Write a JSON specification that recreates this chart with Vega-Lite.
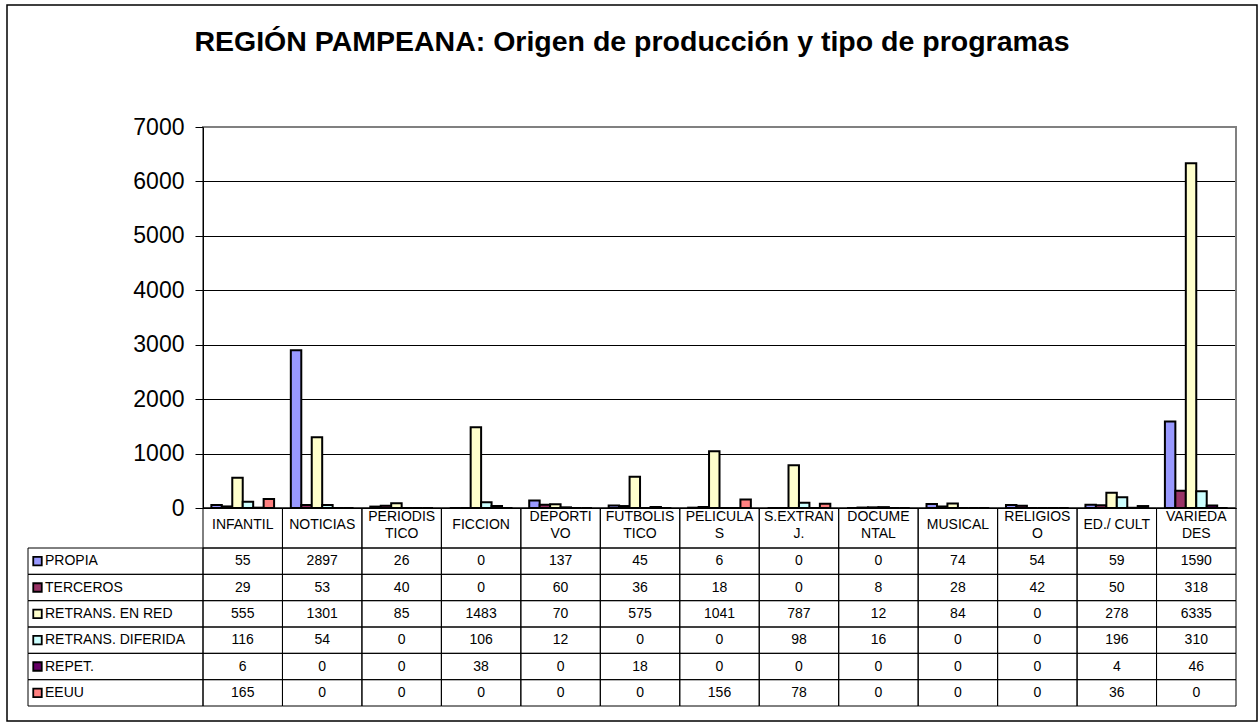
{
  "$schema": "https://vega.github.io/schema/vega-lite/v6.json",
  "width": 1250,
  "height": 716,
  "autosize": "none",
  "padding": {"left": 7, "top": 5, "right": 1, "bottom": 2},
  "background": "white",
  "config": {"view": {"stroke": "black", "strokeWidth": 1.5}, "font": "Liberation Sans"},
  "title": {"text": "REGIÓN PAMPEANA: Origen de producción y tipo de programas", "font": "Liberation Sans", "fontSize": 28.5, "fontWeight": "bold", "color": "black", "anchor": "middle", "frame": "group", "baseline": "alphabetic", "offset": -74},
  "datasets": {
    "tipos": [
      {"tipo": "INFANTIL"}, {"tipo": "NOTICIAS"}, {"tipo": "PERIODISTICO"}, {"tipo": "FICCION"}, {"tipo": "DEPORTIVO"}, {"tipo": "FUTBOLISTICO"}, {"tipo": "PELICULAS"}, {"tipo": "S.EXTRANJ."}, {"tipo": "DOCUMENTAL"}, {"tipo": "MUSICAL"}, {"tipo": "RELIGIOSO"}, {"tipo": "ED./ CULT"}, {"tipo": "VARIEDADES"}
    ],
    "origenes": [
      {"origen": "PROPIA"}, {"origen": "TERCEROS"}, {"origen": "RETRANS. EN RED"}, {"origen": "RETRANS. DIFERIDA"}, {"origen": "REPET."}, {"origen": "EEUU"}
    ],
    "datos": [
      {"tipo": "INFANTIL", "origen": "PROPIA", "valor": 55},
      {"tipo": "NOTICIAS", "origen": "PROPIA", "valor": 2897},
      {"tipo": "PERIODISTICO", "origen": "PROPIA", "valor": 26},
      {"tipo": "FICCION", "origen": "PROPIA", "valor": 0},
      {"tipo": "DEPORTIVO", "origen": "PROPIA", "valor": 137},
      {"tipo": "FUTBOLISTICO", "origen": "PROPIA", "valor": 45},
      {"tipo": "PELICULAS", "origen": "PROPIA", "valor": 6},
      {"tipo": "S.EXTRANJ.", "origen": "PROPIA", "valor": 0},
      {"tipo": "DOCUMENTAL", "origen": "PROPIA", "valor": 0},
      {"tipo": "MUSICAL", "origen": "PROPIA", "valor": 74},
      {"tipo": "RELIGIOSO", "origen": "PROPIA", "valor": 54},
      {"tipo": "ED./ CULT", "origen": "PROPIA", "valor": 59},
      {"tipo": "VARIEDADES", "origen": "PROPIA", "valor": 1590},
      {"tipo": "INFANTIL", "origen": "TERCEROS", "valor": 29},
      {"tipo": "NOTICIAS", "origen": "TERCEROS", "valor": 53},
      {"tipo": "PERIODISTICO", "origen": "TERCEROS", "valor": 40},
      {"tipo": "FICCION", "origen": "TERCEROS", "valor": 0},
      {"tipo": "DEPORTIVO", "origen": "TERCEROS", "valor": 60},
      {"tipo": "FUTBOLISTICO", "origen": "TERCEROS", "valor": 36},
      {"tipo": "PELICULAS", "origen": "TERCEROS", "valor": 18},
      {"tipo": "S.EXTRANJ.", "origen": "TERCEROS", "valor": 0},
      {"tipo": "DOCUMENTAL", "origen": "TERCEROS", "valor": 8},
      {"tipo": "MUSICAL", "origen": "TERCEROS", "valor": 28},
      {"tipo": "RELIGIOSO", "origen": "TERCEROS", "valor": 42},
      {"tipo": "ED./ CULT", "origen": "TERCEROS", "valor": 50},
      {"tipo": "VARIEDADES", "origen": "TERCEROS", "valor": 318},
      {"tipo": "INFANTIL", "origen": "RETRANS. EN RED", "valor": 555},
      {"tipo": "NOTICIAS", "origen": "RETRANS. EN RED", "valor": 1301},
      {"tipo": "PERIODISTICO", "origen": "RETRANS. EN RED", "valor": 85},
      {"tipo": "FICCION", "origen": "RETRANS. EN RED", "valor": 1483},
      {"tipo": "DEPORTIVO", "origen": "RETRANS. EN RED", "valor": 70},
      {"tipo": "FUTBOLISTICO", "origen": "RETRANS. EN RED", "valor": 575},
      {"tipo": "PELICULAS", "origen": "RETRANS. EN RED", "valor": 1041},
      {"tipo": "S.EXTRANJ.", "origen": "RETRANS. EN RED", "valor": 787},
      {"tipo": "DOCUMENTAL", "origen": "RETRANS. EN RED", "valor": 12},
      {"tipo": "MUSICAL", "origen": "RETRANS. EN RED", "valor": 84},
      {"tipo": "RELIGIOSO", "origen": "RETRANS. EN RED", "valor": 0},
      {"tipo": "ED./ CULT", "origen": "RETRANS. EN RED", "valor": 278},
      {"tipo": "VARIEDADES", "origen": "RETRANS. EN RED", "valor": 6335},
      {"tipo": "INFANTIL", "origen": "RETRANS. DIFERIDA", "valor": 116},
      {"tipo": "NOTICIAS", "origen": "RETRANS. DIFERIDA", "valor": 54},
      {"tipo": "PERIODISTICO", "origen": "RETRANS. DIFERIDA", "valor": 0},
      {"tipo": "FICCION", "origen": "RETRANS. DIFERIDA", "valor": 106},
      {"tipo": "DEPORTIVO", "origen": "RETRANS. DIFERIDA", "valor": 12},
      {"tipo": "FUTBOLISTICO", "origen": "RETRANS. DIFERIDA", "valor": 0},
      {"tipo": "PELICULAS", "origen": "RETRANS. DIFERIDA", "valor": 0},
      {"tipo": "S.EXTRANJ.", "origen": "RETRANS. DIFERIDA", "valor": 98},
      {"tipo": "DOCUMENTAL", "origen": "RETRANS. DIFERIDA", "valor": 16},
      {"tipo": "MUSICAL", "origen": "RETRANS. DIFERIDA", "valor": 0},
      {"tipo": "RELIGIOSO", "origen": "RETRANS. DIFERIDA", "valor": 0},
      {"tipo": "ED./ CULT", "origen": "RETRANS. DIFERIDA", "valor": 196},
      {"tipo": "VARIEDADES", "origen": "RETRANS. DIFERIDA", "valor": 310},
      {"tipo": "INFANTIL", "origen": "REPET.", "valor": 6},
      {"tipo": "NOTICIAS", "origen": "REPET.", "valor": 0},
      {"tipo": "PERIODISTICO", "origen": "REPET.", "valor": 0},
      {"tipo": "FICCION", "origen": "REPET.", "valor": 38},
      {"tipo": "DEPORTIVO", "origen": "REPET.", "valor": 0},
      {"tipo": "FUTBOLISTICO", "origen": "REPET.", "valor": 18},
      {"tipo": "PELICULAS", "origen": "REPET.", "valor": 0},
      {"tipo": "S.EXTRANJ.", "origen": "REPET.", "valor": 0},
      {"tipo": "DOCUMENTAL", "origen": "REPET.", "valor": 0},
      {"tipo": "MUSICAL", "origen": "REPET.", "valor": 0},
      {"tipo": "RELIGIOSO", "origen": "REPET.", "valor": 0},
      {"tipo": "ED./ CULT", "origen": "REPET.", "valor": 4},
      {"tipo": "VARIEDADES", "origen": "REPET.", "valor": 46},
      {"tipo": "INFANTIL", "origen": "EEUU", "valor": 165},
      {"tipo": "NOTICIAS", "origen": "EEUU", "valor": 0},
      {"tipo": "PERIODISTICO", "origen": "EEUU", "valor": 0},
      {"tipo": "FICCION", "origen": "EEUU", "valor": 0},
      {"tipo": "DEPORTIVO", "origen": "EEUU", "valor": 0},
      {"tipo": "FUTBOLISTICO", "origen": "EEUU", "valor": 0},
      {"tipo": "PELICULAS", "origen": "EEUU", "valor": 156},
      {"tipo": "S.EXTRANJ.", "origen": "EEUU", "valor": 78},
      {"tipo": "DOCUMENTAL", "origen": "EEUU", "valor": 0},
      {"tipo": "MUSICAL", "origen": "EEUU", "valor": 0},
      {"tipo": "RELIGIOSO", "origen": "EEUU", "valor": 0},
      {"tipo": "ED./ CULT", "origen": "EEUU", "valor": 36},
      {"tipo": "VARIEDADES", "origen": "EEUU", "valor": 0}
    ]
  },
  "resolve": {"scale": {"x": "independent", "y": "independent"}, "axis": {"x": "independent", "y": "independent"}},
  "layer": [
    {
      "data": {"values": [{"area": "grafico"}]},
      "mark": {"type": "rect", "fill": "transparent", "stroke": "#808080", "strokeWidth": 2},
      "encoding": {
        "x": {"field": "area", "type": "nominal", "scale": {"domain": ["grafico"], "range": [196, 1229], "paddingInner": 0, "paddingOuter": 0}, "axis": null},
        "y": {"datum": 7000, "type": "quantitative", "scale": {"domain": [0, 7000], "range": [503, 122], "nice": false}, "axis": {"orient": "left", "offset": -196, "values": [1000, 2000, 3000, 4000, 5000, 6000], "grid": true, "gridColor": "black", "gridWidth": 1, "domain": false, "ticks": false, "labels": false, "title": null}},
        "y2": {"datum": 0}
      }
    },
    {
      "data": {"name": "datos"},
      "mark": {"type": "bar", "stroke": "black", "strokeWidth": 2},
      "encoding": {
        "x": {"field": "tipo", "type": "nominal",
          "scale": {"domain": ["INFANTIL", "NOTICIAS", "PERIODISTICO", "FICCION", "DEPORTIVO", "FUTBOLISTICO", "PELICULAS", "S.EXTRANJ.", "DOCUMENTAL", "MUSICAL", "RELIGIOSO", "ED./ CULT", "VARIEDADES"], "range": [196, 1229], "paddingInner": 0, "paddingOuter": 0},
          "axis": {"orient": "bottom", "offset": -213, "title": null, "ticks": false, "domain": true, "domainColor": "black", "domainWidth": 1, "labelAngle": 0, "labelFontSize": 14, "labelColor": "black", "labelBaseline": "middle", "labelLineHeight": 17.5, "labelOverlap": false, "labelBound": false, "labelFlush": false, "zindex": 1,
            "labelPadding": {"condition": {"test": "indexof(['INFANTIL', 'NOTICIAS', 'FICCION', 'MUSICAL', 'ED./ CULT'], datum.value) >= 0", "value": 16.5}, "value": 8},
            "labelExpr": "{'PERIODISTICO': ['PERIODIS', 'TICO'], 'DEPORTIVO': ['DEPORTI', 'VO'], 'FUTBOLISTICO': ['FUTBOLIS', 'TICO'], 'PELICULAS': ['PELICULA', 'S'], 'S.EXTRANJ.': ['S.EXTRAN', 'J.'], 'DOCUMENTAL': ['DOCUME', 'NTAL'], 'RELIGIOSO': ['RELIGIOS', 'O'], 'VARIEDADES': ['VARIEDA', 'DES']}[datum.value] || datum.value"}},
        "xOffset": {"field": "origen", "type": "nominal", "scale": {"domain": ["PROPIA", "TERCEROS", "RETRANS. EN RED", "RETRANS. DIFERIDA", "REPET.", "EEUU"], "paddingInner": 0, "paddingOuter": 0.8}},
        "y": {"field": "valor", "type": "quantitative", "scale": {"domain": [0, 7000], "range": [503, 122], "nice": false},
          "axis": {"orient": "left", "offset": -196, "values": [0, 1000, 2000, 3000, 4000, 5000, 6000, 7000], "grid": false, "format": "d", "labelFontSize": 23, "labelColor": "black", "tickColor": "black", "tickSize": 8, "labelPadding": 11, "domainColor": "black", "title": null, "zindex": 1}},
        "color": {"field": "origen", "type": "nominal", "scale": {"domain": ["PROPIA", "TERCEROS", "RETRANS. EN RED", "RETRANS. DIFERIDA", "REPET.", "EEUU"], "range": ["#9999FF", "#993366", "#FFFFCC", "#CCFFFF", "#660066", "#FF8080"]}, "legend": null}
      }
    },
    {
      "data": {"name": "tipos"},
      "mark": {"type": "rect", "fill": "transparent", "stroke": "black", "strokeWidth": 1},
      "encoding": {
        "x": {"field": "tipo", "type": "nominal", "scale": {"domain": ["INFANTIL", "NOTICIAS", "PERIODISTICO", "FICCION", "DEPORTIVO", "FUTBOLISTICO", "PELICULAS", "S.EXTRANJ.", "DOCUMENTAL", "MUSICAL", "RELIGIOSO", "ED./ CULT", "VARIEDADES"], "range": [196, 1229], "paddingInner": 0, "paddingOuter": 0}, "axis": null},
        "y": {"datum": "encabezado", "type": "nominal", "scale": {"domain": ["encabezado"], "range": [503, 543], "paddingInner": 0, "paddingOuter": 0}, "axis": null}
      }
    },
    {
      "data": {"name": "datos"},
      "mark": {"type": "rect", "fill": "transparent", "stroke": "black", "strokeWidth": 1},
      "encoding": {
        "x": {"field": "tipo", "type": "nominal", "scale": {"domain": ["INFANTIL", "NOTICIAS", "PERIODISTICO", "FICCION", "DEPORTIVO", "FUTBOLISTICO", "PELICULAS", "S.EXTRANJ.", "DOCUMENTAL", "MUSICAL", "RELIGIOSO", "ED./ CULT", "VARIEDADES"], "range": [196, 1229], "paddingInner": 0, "paddingOuter": 0}, "axis": null},
        "y": {"field": "origen", "type": "nominal", "scale": {"domain": ["PROPIA", "TERCEROS", "RETRANS. EN RED", "RETRANS. DIFERIDA", "REPET.", "EEUU"], "range": [543, 701], "paddingInner": 0, "paddingOuter": 0}, "axis": null}
      }
    },
    {
      "data": {"name": "datos"},
      "mark": {"type": "text", "fontSize": 14, "color": "black", "baseline": "middle", "align": "center"},
      "encoding": {
        "x": {"field": "tipo", "type": "nominal", "scale": {"domain": ["INFANTIL", "NOTICIAS", "PERIODISTICO", "FICCION", "DEPORTIVO", "FUTBOLISTICO", "PELICULAS", "S.EXTRANJ.", "DOCUMENTAL", "MUSICAL", "RELIGIOSO", "ED./ CULT", "VARIEDADES"], "range": [196, 1229], "paddingInner": 0, "paddingOuter": 0}, "axis": null},
        "y": {"field": "origen", "type": "nominal", "scale": {"domain": ["PROPIA", "TERCEROS", "RETRANS. EN RED", "RETRANS. DIFERIDA", "REPET.", "EEUU"], "range": [543, 701], "paddingInner": 0, "paddingOuter": 0}, "axis": null},
        "text": {"field": "valor", "type": "quantitative", "format": "d"}
      }
    },
    {
      "data": {"name": "origenes"},
      "mark": {"type": "rect", "fill": "transparent", "stroke": "black", "strokeWidth": 1},
      "encoding": {
        "x": {"datum": "etiqueta", "type": "nominal", "scale": {"domain": ["etiqueta"], "range": [21, 196], "paddingInner": 0, "paddingOuter": 0}, "axis": null},
        "y": {"field": "origen", "type": "nominal", "scale": {"domain": ["PROPIA", "TERCEROS", "RETRANS. EN RED", "RETRANS. DIFERIDA", "REPET.", "EEUU"], "range": [543, 701], "paddingInner": 0, "paddingOuter": 0}, "axis": null}
      }
    },
    {
      "data": {"name": "origenes"},
      "mark": {"type": "point", "shape": "square", "size": 72, "filled": true, "opacity": 1, "stroke": "black", "strokeWidth": 1.8, "xOffset": 9.5},
      "encoding": {
        "x": {"datum": "etiqueta", "type": "nominal", "scale": {"type": "point", "domain": ["etiqueta"], "range": [21, 196], "padding": 0, "align": 0}, "axis": null},
        "y": {"field": "origen", "type": "nominal", "scale": {"domain": ["PROPIA", "TERCEROS", "RETRANS. EN RED", "RETRANS. DIFERIDA", "REPET.", "EEUU"], "range": [543, 701], "paddingInner": 0, "paddingOuter": 0}, "axis": null},
        "color": {"field": "origen", "type": "nominal", "scale": {"domain": ["PROPIA", "TERCEROS", "RETRANS. EN RED", "RETRANS. DIFERIDA", "REPET.", "EEUU"], "range": ["#9999FF", "#993366", "#FFFFCC", "#CCFFFF", "#660066", "#FF8080"]}, "legend": null}
      }
    },
    {
      "data": {"name": "origenes"},
      "mark": {"type": "text", "fontSize": 14, "color": "black", "align": "left", "baseline": "middle", "dx": 17},
      "encoding": {
        "x": {"datum": "etiqueta", "type": "nominal", "scale": {"type": "point", "domain": ["etiqueta"], "range": [21, 196], "padding": 0, "align": 0}, "axis": null},
        "y": {"field": "origen", "type": "nominal", "scale": {"domain": ["PROPIA", "TERCEROS", "RETRANS. EN RED", "RETRANS. DIFERIDA", "REPET.", "EEUU"], "range": [543, 701], "paddingInner": 0, "paddingOuter": 0}, "axis": null},
        "text": {"field": "origen", "type": "nominal"}
      }
    }
  ]
}
